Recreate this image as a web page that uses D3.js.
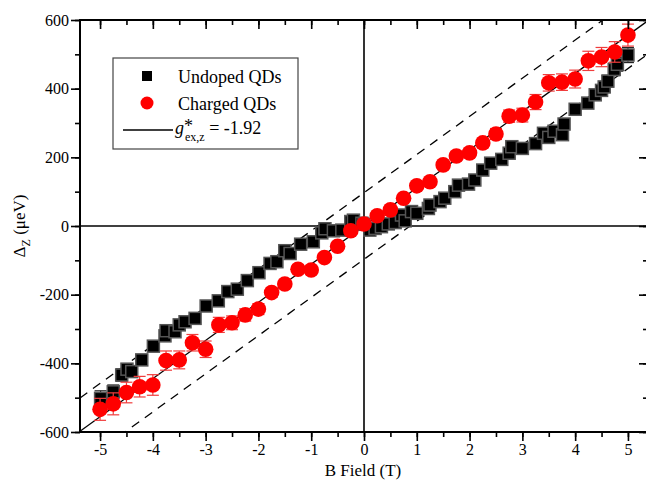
<!DOCTYPE html>
<html>
<head>
<meta charset="utf-8">
<script src="https://cdn.jsdelivr.net/npm/d3@7"></script>
<style>
  body { margin: 0; background: #fff; }
  text { font-family: "Liberation Serif", "Times New Roman", serif; }
</style>
</head>
<body>
<svg id="chart" width="646" height="485"></svg>
<script>
// undoped QDs (black squares)
var undopedB = [-4.99, -4.75, -4.59, -4.49, -4.4, -4.21, -3.99, -3.77, -3.75, -3.58, -3.5, -3.39, -3.2,
  -2.99, -2.76, -2.58, -2.4, -2.21, -1.99, -1.78, -1.65, -1.5, -1.4, -1.2, -0.96, -0.8, -0.74, -0.58,
  -0.42, -0.25, -0.2, -0.04, 0.0, 0.11, 0.21, 0.33, 0.46, 0.59, 0.71, 0.78, 0.9, 1.0, 1.22, 1.25,
  1.44, 1.53, 1.72, 1.79, 1.98, 2.1, 2.25, 2.4, 2.61, 2.75, 2.8, 3.0, 3.25, 3.4, 3.5, 3.6, 3.76,
  3.79, 4.0, 4.24, 4.38, 4.5, 4.55, 4.62, 4.74, 4.8, 5.0];
var undopedDz = [-502, -483, -434, -417, -424, -390, -350, -320, -305, -308, -288, -279, -269,
  -233, -218, -191, -184, -159, -136, -109, -104, -72, -80, -53, -46, -20, -8, -14,
  -12, 13, 17, 8, 5, -12, -7, -2, 6, 10, 32, 15, 42, 37, 51, 61,
  71, 81, 100, 119, 122, 134, 163, 183, 194, 212, 231, 226, 240, 270, 258, 276, 266,
  297, 340, 358, 382, 395, 405, 422, 456, 471, 498];
var undopedErr = [22, 20, 18, 16, 16, 15, 15, 14, 14, 14, 13, 13, 12,
  12, 12, 11, 11, 10, 10, 10, 10, 10, 10, 9, 9, 9, 9, 9,
  9, 9, 9, 9, 9, 9, 9, 9, 9, 9, 9, 9, 9, 9, 9, 9,
  9, 10, 10, 10, 10, 10, 11, 11, 11, 12, 12, 12, 13, 13, 13, 14, 14,
  14, 15, 15, 16, 16, 16, 17, 18, 20, 22];

// charged QDs (red circles)
var chargedB = [-5, -4.75, -4.5, -4.25, -4, -3.75, -3.5, -3.25, -3, -2.75, -2.5, -2.25, -2, -1.75,
  -1.5, -1.25, -1, -0.75, -0.5, -0.25, 0, 0.25, 0.5, 0.75, 1, 1.25, 1.5, 1.75, 2, 2.25, 2.5, 2.75,
  3, 3.25, 3.5, 3.75, 4, 4.25, 4.5, 4.75, 5];
var chargedDz = [-534, -518, -485, -468, -463, -392, -390, -340, -359, -288, -282, -259, -242, -194,
  -169, -126, -128, -92, -59, -14, 6, 30, 47, 81, 117, 129, 178, 204, 213, 242, 268, 320,
  323, 361, 417, 419, 428, 481, 492, 507, 556];
var chargedErr = [32, 32, 30, 30, 30, 28, 26, 24, 24, 22, 20, 18, 16, 14,
  12, 12, 12, 10, 10, 10, 10, 10, 10, 10, 10, 10, 12, 12, 12, 14, 16, 18,
  20, 22, 24, 24, 26, 28, 28, 30, 32];

var xTicks = [-5, -4, -3, -2, -1, 0, 1, 2, 3, 4, 5];
var yTicks = [-600, -400, -200, 0, 200, 400, 600];
var gFactor = 1.92, muB = 57.88, offset = 97;

var svg = d3.select("#chart");
var pLeft = 80, pRight = 648, pTop = 20, pBottom = 432;

var x = d3.scaleLinear().domain([-5.38, 5.38]).range([pLeft, pRight]);
var y = d3.scaleLinear().domain([-600, 600]).range([pBottom, pTop]);

svg.append("defs").append("clipPath").attr("id", "clip")
  .append("rect").attr("x", pLeft).attr("y", pTop)
  .attr("width", pRight - pLeft).attr("height", pBottom - pTop);

var plot = svg.append("g").attr("clip-path", "url(#clip)");

// zero lines
plot.append("line").attr("x1", pLeft).attr("x2", pRight).attr("y1", y(0)).attr("y2", y(0))
  .attr("stroke", "#000").attr("stroke-width", 1.6);
plot.append("line").attr("x1", x(0)).attr("x2", x(0)).attr("y1", pTop).attr("y2", pBottom)
  .attr("stroke", "#000").attr("stroke-width", 1.6);

// fit lines
var slope = gFactor * muB;
function fitLine(off, dash) {
  plot.append("line")
    .attr("x1", x(-5.38)).attr("y1", y(slope * -5.38 + off))
    .attr("x2", x(5.38)).attr("y2", y(slope * 5.38 + off))
    .attr("stroke", "#000").attr("stroke-width", 1.3)
    .attr("stroke-dasharray", dash);
}
fitLine(0, null);
fitLine(offset, "9,7");
fitLine(-offset, "9,7");

var undoped = undopedB.map(function(b, i) { return {b: b, d: undopedDz[i], e: undopedErr[i]}; });
var charged = chargedB.map(function(b, i) { return {b: b, d: chargedDz[i], e: chargedErr[i]}; });

function errorBars(data, color) {
  var g = plot.append("g").attr("stroke", color).attr("stroke-width", 1.2);
  data.forEach(function(p) {
    var cx = x(p.b);
    g.append("line").attr("x1", cx).attr("x2", cx).attr("y1", y(p.d - p.e)).attr("y2", y(p.d + p.e));
    g.append("line").attr("x1", cx - 6).attr("x2", cx + 6).attr("y1", y(p.d - p.e)).attr("y2", y(p.d - p.e));
    g.append("line").attr("x1", cx - 6).attr("x2", cx + 6).attr("y1", y(p.d + p.e)).attr("y2", y(p.d + p.e));
  });
}

errorBars(undoped, "#222");
plot.selectAll(".sq").data(undoped).enter().append("rect")
  .attr("class", "sq")
  .attr("x", function(d) { return x(d.b) - 6; })
  .attr("y", function(d) { return y(d.d) - 6; })
  .attr("width", 12).attr("height", 12)
  .attr("fill", "#000").attr("stroke", "#555").attr("stroke-width", 1.5);

errorBars(charged, "#f03c3c");
plot.selectAll(".dot").data(charged).enter().append("circle")
  .attr("class", "dot")
  .attr("cx", function(d) { return x(d.b); })
  .attr("cy", function(d) { return y(d.d); })
  .attr("r", 7.8)
  .attr("fill", "#ff0000");

// axes
var xMinor = d3.range(-5, 5.01, 0.5);
var yMinor = d3.range(-600, 601, 100);
var fmt = function(d) { return String(d); };

function noDomain(g) { g.select(".domain").remove(); }

svg.append("g").attr("transform", "translate(0," + pBottom + ")")
  .call(d3.axisBottom(x).tickValues(xMinor).tickSize(5).tickFormat("")).call(noDomain);
svg.append("g").attr("transform", "translate(0," + pBottom + ")")
  .call(d3.axisBottom(x).tickValues(xTicks).tickSize(9).tickPadding(3).tickFormat(fmt)).call(noDomain);

svg.append("g").attr("transform", "translate(0," + pTop + ")")
  .call(d3.axisBottom(x).tickValues(xMinor).tickSize(5).tickFormat("")).call(noDomain);
svg.append("g").attr("transform", "translate(0," + pTop + ")")
  .call(d3.axisBottom(x).tickValues(xTicks).tickSize(9).tickFormat("")).call(noDomain);

svg.append("g").attr("transform", "translate(" + pLeft + ",0)")
  .call(d3.axisLeft(y).tickValues(yMinor).tickSize(5).tickFormat("")).call(noDomain);
svg.append("g").attr("transform", "translate(" + pLeft + ",0)")
  .call(d3.axisLeft(y).tickValues(yTicks).tickSize(9).tickPadding(2).tickFormat(fmt)).call(noDomain);

svg.append("g").attr("transform", "translate(" + pRight + ",0)")
  .call(d3.axisLeft(y).tickValues(yMinor).tickSize(5).tickFormat("")).call(noDomain);
svg.append("g").attr("transform", "translate(" + pRight + ",0)")
  .call(d3.axisLeft(y).tickValues(yTicks).tickSize(9).tickFormat("")).call(noDomain);

svg.selectAll(".tick line").attr("stroke", "#000").attr("stroke-width", 1.6);
svg.selectAll(".tick text").attr("fill", "#000").style("font-size", "16px")
  .style("font-family", "'Liberation Serif', serif");

// frame
svg.append("rect").attr("x", pLeft).attr("y", pTop)
  .attr("width", pRight - pLeft).attr("height", pBottom - pTop)
  .attr("fill", "none").attr("stroke", "#000").attr("stroke-width", 2);

// axis labels
svg.append("text").attr("x", 363).attr("y", 476)
  .attr("text-anchor", "middle").style("font-size", "17px").text("B Field (T)");

var yl = svg.append("text").attr("transform", "translate(25," + y(0) + ") rotate(-90)")
  .attr("text-anchor", "middle").style("font-size", "17px");
yl.append("tspan").text("Δ");
yl.append("tspan").attr("dy", 5).style("font-size", "12px").text("Z");
yl.append("tspan").attr("dy", -5).text(" (μeV)");

// legend
var lg = svg.append("g");
lg.append("rect").attr("x", 113).attr("y", 58).attr("width", 185).attr("height", 91)
  .attr("fill", "#fff").attr("stroke", "#444").attr("stroke-width", 1.2);
lg.append("rect").attr("x", 142).attr("y", 71).attr("width", 10).attr("height", 10).attr("fill", "#000");
lg.append("text").attr("x", 178).attr("y", 83).style("font-size", "18px").text("Undoped QDs");
lg.append("circle").attr("cx", 147).attr("cy", 103).attr("r", 6.5).attr("fill", "#ff0000");
lg.append("text").attr("x", 178).attr("y", 110).style("font-size", "18px").text("Charged QDs");
lg.append("line").attr("x1", 123).attr("x2", 173).attr("y1", 130).attr("y2", 130)
  .attr("stroke", "#000").attr("stroke-width", 1.3);
var lt = lg.append("text").attr("x", 175).attr("y", 134).style("font-size", "18px");
lt.append("tspan").style("font-style", "italic").text("g");
lt.append("tspan").attr("dy", -2).text("*");
lt.append("tspan").attr("dy", 9).attr("dx", -8).style("font-size", "12px").text("ex,z");
lt.append("tspan").attr("dy", -7).text(" = -1.92");
</script>
</body>
</html>
